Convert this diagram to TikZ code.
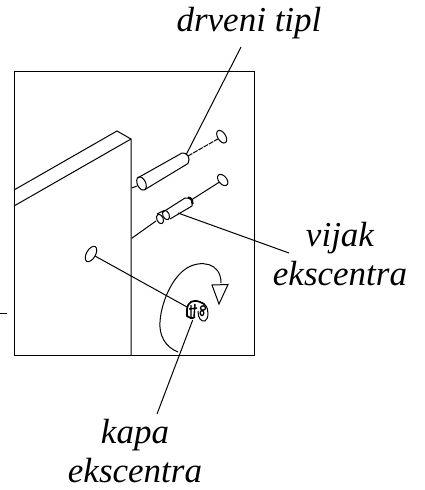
\documentclass[tikz,border=0pt]{standalone}
\usepackage{fontspec}
\setmainfont{Liberation Serif}
\usetikzlibrary{shapes.geometric}
\tikzset{
 ln/.style={line width=1pt,black},
 lab/.style={font=\fontsize{35}{39.5}\selectfont\itshape,align=center,inner sep=0pt},
 hole/.style={draw,line width=1pt,ellipse,inner sep=0pt},
}
\begin{document}
\begin{tikzpicture}[x=1pt,y=-1pt]
\useasboundingbox (0,0) rectangle (425,490);
\node[lab] (t1) at (249,23) {drveni tipl};
\node[lab] (t2) at (340,254) {vijak\\ekscentra};
\node[lab] (t3) at (135,451) {kapa\\ekscentra};
\draw[ln] (14,71) rectangle (254,355);
\draw[ln] (0,313) -- (7,313);
\draw[ln] (14,190) -- (117,131) -- (131,139) -- (131,355);
\draw[ln] (14,206) -- (131,139);
% dowel
\node[hole,rotate=32,minimum width=8pt,minimum height=14pt] (h1) at (221.7,136.7) {};
\draw[ln,dash pattern=on 5pt off 1pt] (188,156) -- (h1);
\draw[ln] (131.7,188) -- (137,186);
\draw[ln] (137.5,178) -- (182,153);
\draw[ln] (145,189.5) -- (188,163.5);
\draw[ln] (182,153) .. controls (187,152) and (191,158) .. (188,163.5);
\draw[ln,rotate around={25:(141.5,183.5)}] (141.5,183.5) ellipse (4.2 and 7);
% screw
\node[hole,rotate=40,minimum width=8pt,minimum height=13pt] (h2) at (222.7,180) {};
\draw[ln] (h2) -- (192,199.5);
\draw[ln] (131.7,238.3) -- (156,221);
\draw[ln] (163,212) -- (185,198);
\draw[ln] (170,219) -- (192,206);
\draw[ln] (157,214) -- (163,211);
\draw[ln] (185,198) .. controls (190,197) and (194,201) .. (192,206);
\draw[line width=2.2pt] (188,197.5) .. controls (192,198) and (193,201) .. (192.5,204);
\draw[ln,rotate around={25:(166,215)}] (166,215) ellipse (3.2 and 5);
\draw[ln,rotate around={25:(160,219)}] (160,219) ellipse (3.2 and 5);
\coordinate (s) at (178,213);
\coordinate (se) at (289,253);
\draw[ln] (s) -- (se);
% cap
\node[hole,rotate=-30,minimum width=9pt,minimum height=17pt] (h3) at (91,254) {};
\draw[ln] (95,256) -- (187,307);
\draw[ln] (178,352) .. controls (165,347) and (159,335) .. (160,322)
  .. controls (161,303) and (172,277) .. (187,268)
  .. controls (200,260) and (221,262) .. (221,283);
\draw[ln] (212,285) -- (228,284.5) -- (219,304) -- cycle;
% cap blob
\draw[line width=1.7pt] (187,309) .. controls (188,302) and (193,299) .. (200,302)
  .. controls (203,303) and (204,304) .. (205,305);
\draw[line width=1.7pt] (187,309) -- (187,316) .. controls (189,318) and (192,319) .. (195,317);
\draw[line width=1.4pt] (191,305) -- (191,317) (195,304) -- (194,317) (189,309) -- (197,308);
\draw[ln] (198,311) .. controls (198,318) and (201,322) .. (205,321)
  .. controls (209,319) and (209,308) .. (205,305);
\draw[line width=1.3pt] (203,308) ellipse (2.5 and 2.2);
\draw[line width=1.3pt] (202,313) ellipse (1.8 and 2.5);
% leaders
\coordinate (d) at (186,155);
\coordinate (dt) at (241,47);
\draw[ln] (d) -- (dt);
\coordinate (k) at (192.7,320);
\coordinate (ke) at (157,414);
\draw[ln] (k) -- (ke);
\end{tikzpicture}
\end{document}
